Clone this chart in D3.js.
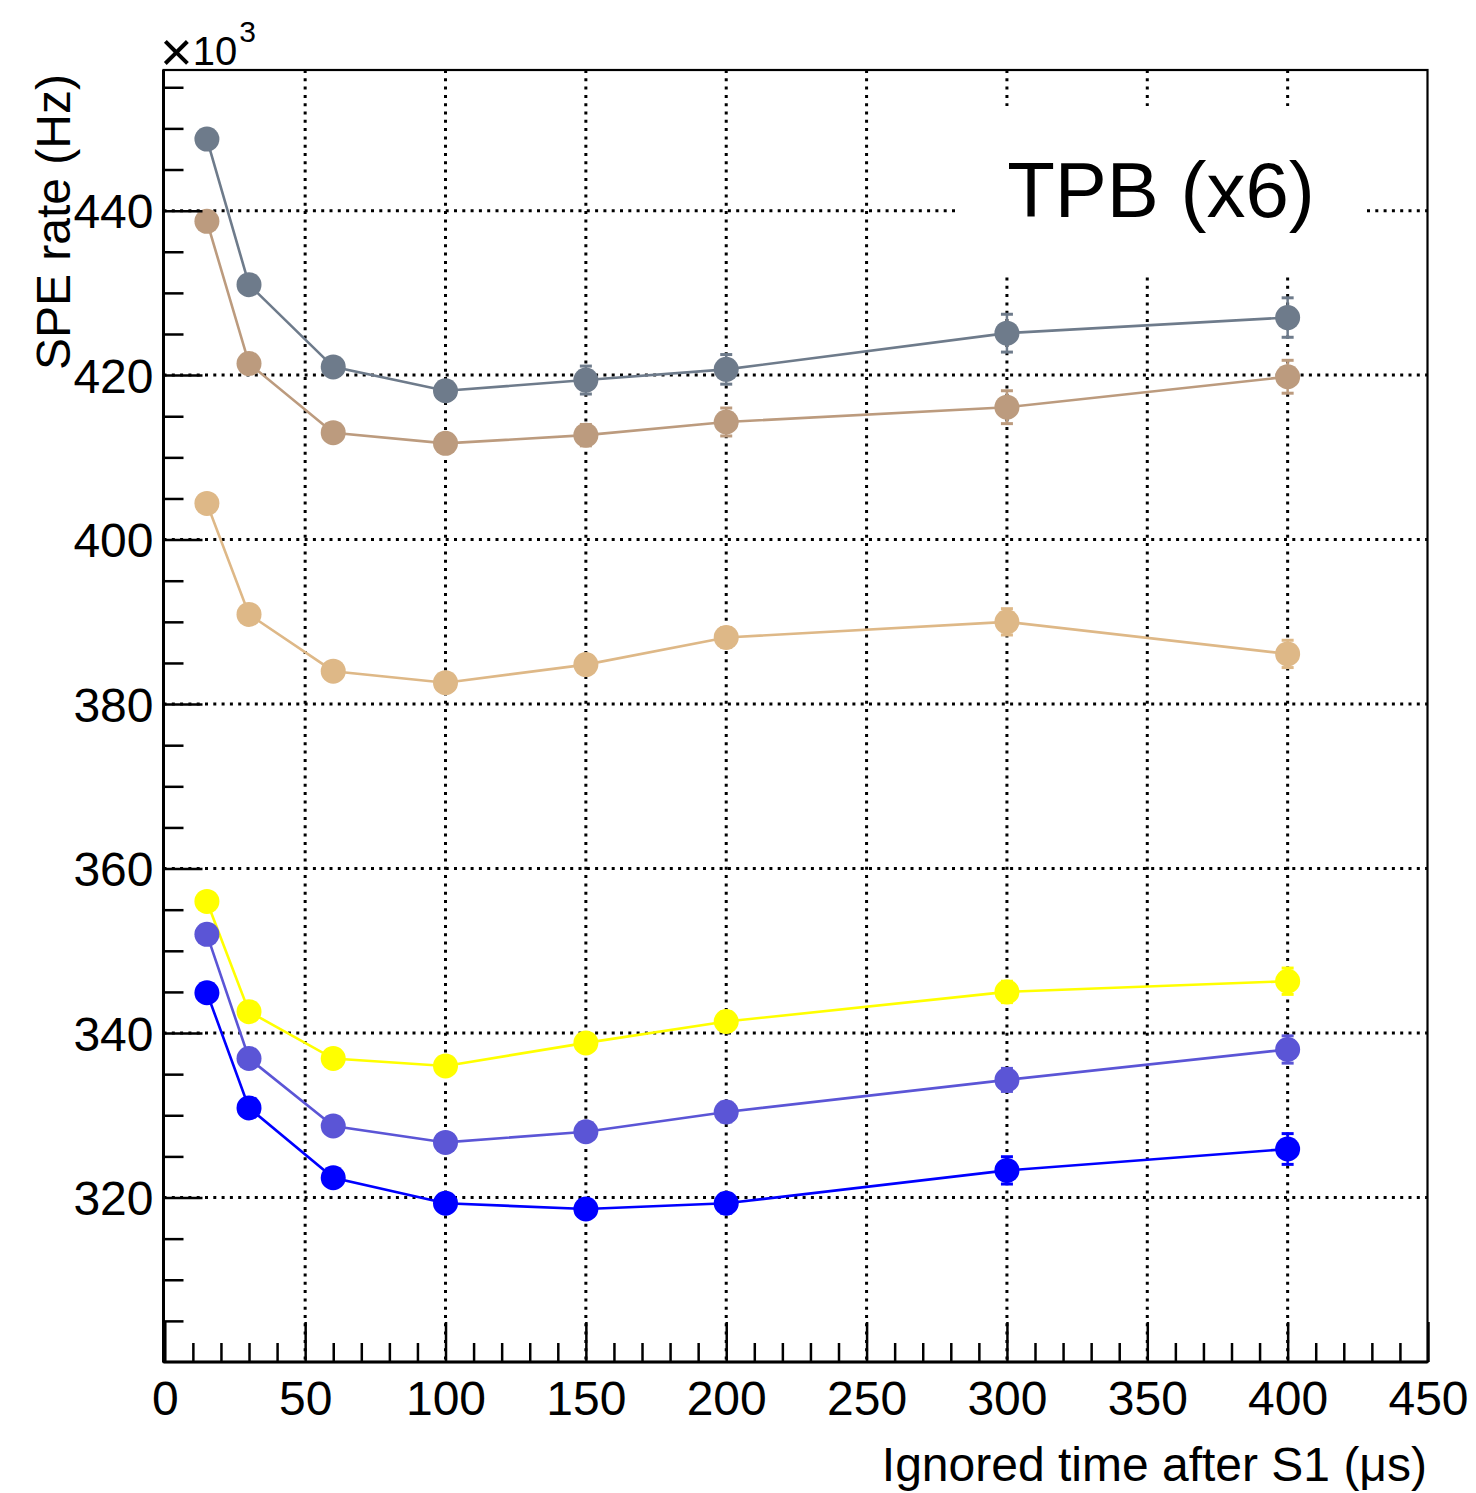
<!DOCTYPE html>
<html>
<head>
<meta charset="utf-8">
<script src="https://cdn.jsdelivr.net/npm/d3@7"></script>
<style>
  html, body { margin: 0; padding: 0; background: #fff; }
  svg { display: block; font-family: "Liberation Sans", Arial, Helvetica, sans-serif; }
</style>
</head>
<body>
<svg id="chart" width="1476" height="1493"></svg>
<script>
// Ignored time after S1 (µs)
const times = [15, 30, 60, 100, 150, 200, 300, 400];

// SPE rate in units of 10^3 Hz, one array per channel, with uncertainties
const rateSlate  = [448.7, 431.0, 421.0, 418.1, 419.4, 420.7, 425.1, 427.0];
const errSlate   = [0.8, 0.9, 1.0, 1.0, 1.7, 1.8, 2.3, 2.4];
const rateRosy   = [438.7, 421.4, 413.0, 411.7, 412.7, 414.3, 416.1, 419.8];
const errRosy    = [0.8, 0.9, 1.0, 1.0, 1.3, 1.7, 2.0, 2.0];
const rateWheat  = [404.4, 390.9, 384.0, 382.6, 384.8, 388.1, 390.0, 386.1];
const errWheat   = [0.8, 0.9, 1.0, 1.0, 1.1, 1.2, 1.6, 1.66];
const rateYellow = [356.0, 342.6, 336.9, 336.0, 338.8, 341.4, 345.0, 346.3];
const errYellow  = [0.8, 0.8, 0.9, 0.9, 1.0, 1.2, 1.3, 1.6];
const rateViolet = [352.0, 336.9, 328.7, 326.7, 328.0, 330.4, 334.3, 338.0];
const errViolet  = [0.8, 0.8, 0.9, 0.9, 1.0, 1.2, 1.4, 1.66];
const rateBlue   = [344.9, 330.9, 322.4, 319.3, 318.6, 319.3, 323.3, 325.9];
const errBlue    = [0.8, 0.8, 0.9, 0.9, 1.0, 1.2, 1.66, 1.87];

const xMajorTicks = [0, 50, 100, 150, 200, 250, 300, 350, 400, 450];
const yMajorTicks = [320, 340, 360, 380, 400, 420, 440];

const series = [
  { values: rateSlate,  errors: errSlate,  color: "#6e7b8b" },
  { values: rateRosy,   errors: errRosy,   color: "#bc9b7e" },
  { values: rateWheat,  errors: errWheat,  color: "#deb887" },
  { values: rateYellow, errors: errYellow, color: "#ffff00" },
  { values: rateViolet, errors: errViolet, color: "#5b55d6" },
  { values: rateBlue,   errors: errBlue,   color: "#0000ff" }
];

const svg = d3.select("#chart");
const frame = { left: 163.5, right: 1427.5, top: 70, bottom: 1362 };

const x = d3.scaleLinear().domain([0, 450]).range([164.8, 1428]);
const y = d3.scaleLinear().domain([300, 457.1]).range([frame.bottom, frame.top]);

// dotted grid
const grid = svg.append("g")
  .attr("stroke", "#000").attr("stroke-width", 3).attr("stroke-dasharray", "3,5.3");
grid.selectAll("line.gx").data(xMajorTicks.filter(v => v > 0 && v < 450)).join("line")
  .attr("class", "gx")
  .attr("x1", d => x(d)).attr("x2", d => x(d))
  .attr("y1", frame.top).attr("y2", frame.bottom);
grid.selectAll("line.gy").data(yMajorTicks).join("line")
  .attr("class", "gy")
  .attr("x1", frame.left).attr("x2", frame.right)
  .attr("y1", d => y(d)).attr("y2", d => y(d));

// label box
svg.append("rect")
  .attr("x", 959).attr("y", 106).attr("width", 407).attr("height", 168)
  .attr("fill", "#fff");
svg.append("text")
  .attr("x", 1161).attr("y", 217)
  .attr("text-anchor", "middle")
  .attr("font-size", 78)
  .attr("fill", "#000")
  .text("TPB (x6)");

// series
const line = d3.line().x((d, i) => x(times[i])).y(d => y(d));
series.forEach(s => {
  const g = svg.append("g");
  g.append("path")
    .attr("d", line(s.values))
    .attr("fill", "none")
    .attr("stroke", s.color)
    .attr("stroke-width", 2.6);
  const pts = s.values.map((v, i) => ({ t: times[i], v, e: s.errors[i] }));
  const eb = g.append("g").attr("stroke", s.color).attr("stroke-width", 2.5);
  eb.selectAll("line.bar").data(pts).join("line").attr("class", "bar")
    .attr("x1", d => x(d.t)).attr("x2", d => x(d.t))
    .attr("y1", d => y(d.v - d.e)).attr("y2", d => y(d.v + d.e));
  eb.selectAll("line.capHi").data(pts).join("line").attr("class", "capHi")
    .attr("stroke-width", 3)
    .attr("x1", d => x(d.t) - 6).attr("x2", d => x(d.t) + 6)
    .attr("y1", d => y(d.v + d.e)).attr("y2", d => y(d.v + d.e));
  eb.selectAll("line.capLo").data(pts).join("line").attr("class", "capLo")
    .attr("stroke-width", 3)
    .attr("x1", d => x(d.t) - 6).attr("x2", d => x(d.t) + 6)
    .attr("y1", d => y(d.v - d.e)).attr("y2", d => y(d.v - d.e));
  g.selectAll("circle").data(pts).join("circle")
    .attr("cx", d => x(d.t)).attr("cy", d => y(d.v))
    .attr("r", 12.5)
    .attr("fill", s.color);
});

// frame
svg.append("rect")
  .attr("x", frame.left).attr("y", frame.top)
  .attr("width", frame.right - frame.left).attr("height", frame.bottom - frame.top)
  .attr("fill", "none").attr("stroke", "#000").attr("stroke-width", 2.2);
svg.append("line")
  .attr("x1", frame.left).attr("x2", frame.left)
  .attr("y1", frame.top).attr("y2", frame.bottom)
  .attr("stroke", "#000").attr("stroke-width", 3);
svg.append("line")
  .attr("x1", frame.left).attr("x2", frame.right)
  .attr("y1", frame.bottom).attr("y2", frame.bottom)
  .attr("stroke", "#000").attr("stroke-width", 3);

// x axis ticks (inside, pointing up)
const xMinor = d3.range(0, 451, 10).filter(v => v % 50 !== 0);
const xAxisMajor = d3.axisBottom(x).tickValues(xMajorTicks).tickSizeInner(-40).tickSizeOuter(0).tickPadding(19).tickFormat(d3.format("d"));
const gx = svg.append("g").attr("transform", `translate(0,${frame.bottom})`).call(xAxisMajor);
gx.select(".domain").remove();
gx.selectAll(".tick line").attr("stroke", "#000").attr("stroke-width", 2.5);
gx.selectAll(".tick text").attr("font-size", 48).attr("fill", "#000")
  .attr("font-family", "Liberation Sans, Arial, sans-serif");
const gxm = svg.append("g").attr("transform", `translate(0,${frame.bottom})`)
  .call(d3.axisBottom(x).tickValues(xMinor).tickSizeInner(-19).tickSizeOuter(0).tickFormat(""));
gxm.select(".domain").remove();
gxm.selectAll(".tick line").attr("stroke", "#000").attr("stroke-width", 2.5);

// y axis ticks (inside, pointing right)
const yMinor = d3.range(305, 457, 5).filter(v => v % 20 !== 0);
const gy = svg.append("g").attr("transform", `translate(${frame.left},0)`)
  .call(d3.axisLeft(y).tickValues(yMajorTicks).tickSizeInner(-39).tickSizeOuter(0).tickPadding(10).tickFormat(d3.format("d")));
gy.select(".domain").remove();
gy.selectAll(".tick line").attr("stroke", "#000").attr("stroke-width", 2.5);
gy.selectAll(".tick text").attr("font-size", 48).attr("fill", "#000")
  .attr("font-family", "Liberation Sans, Arial, sans-serif")
  .attr("x", -10).attr("dy", "0.36em");
const gym = svg.append("g").attr("transform", `translate(${frame.left},0)`)
  .call(d3.axisLeft(y).tickValues(yMinor).tickSizeInner(-20).tickSizeOuter(0).tickFormat(""));
gym.select(".domain").remove();
gym.selectAll(".tick line").attr("stroke", "#000").attr("stroke-width", 2.5);

// axis titles
svg.append("text")
  .attr("x", 1427).attr("y", 1481)
  .attr("text-anchor", "end")
  .attr("font-size", 48)
  .attr("fill", "#000")
  .text("Ignored time after S1 (\u03bcs)");
svg.append("text")
  .attr("transform", "translate(70,74) rotate(-90)")
  .attr("text-anchor", "end")
  .attr("font-size", 48)
  .attr("fill", "#000")
  .text("SPE rate (Hz)");

// exponent marker
const expo = svg.append("text").attr("x", 160).attr("y", 65).attr("fill", "#000");
expo.append("tspan").attr("font-size", 56).attr("font-weight", 300).attr("dy", 6).text("\u00d7");
expo.append("tspan").attr("font-size", 40).attr("dy", -6).text("10");
expo.append("tspan").attr("font-size", 30).attr("dy", -23).attr("dx", 2).text("3");
</script>
</body>
</html>
